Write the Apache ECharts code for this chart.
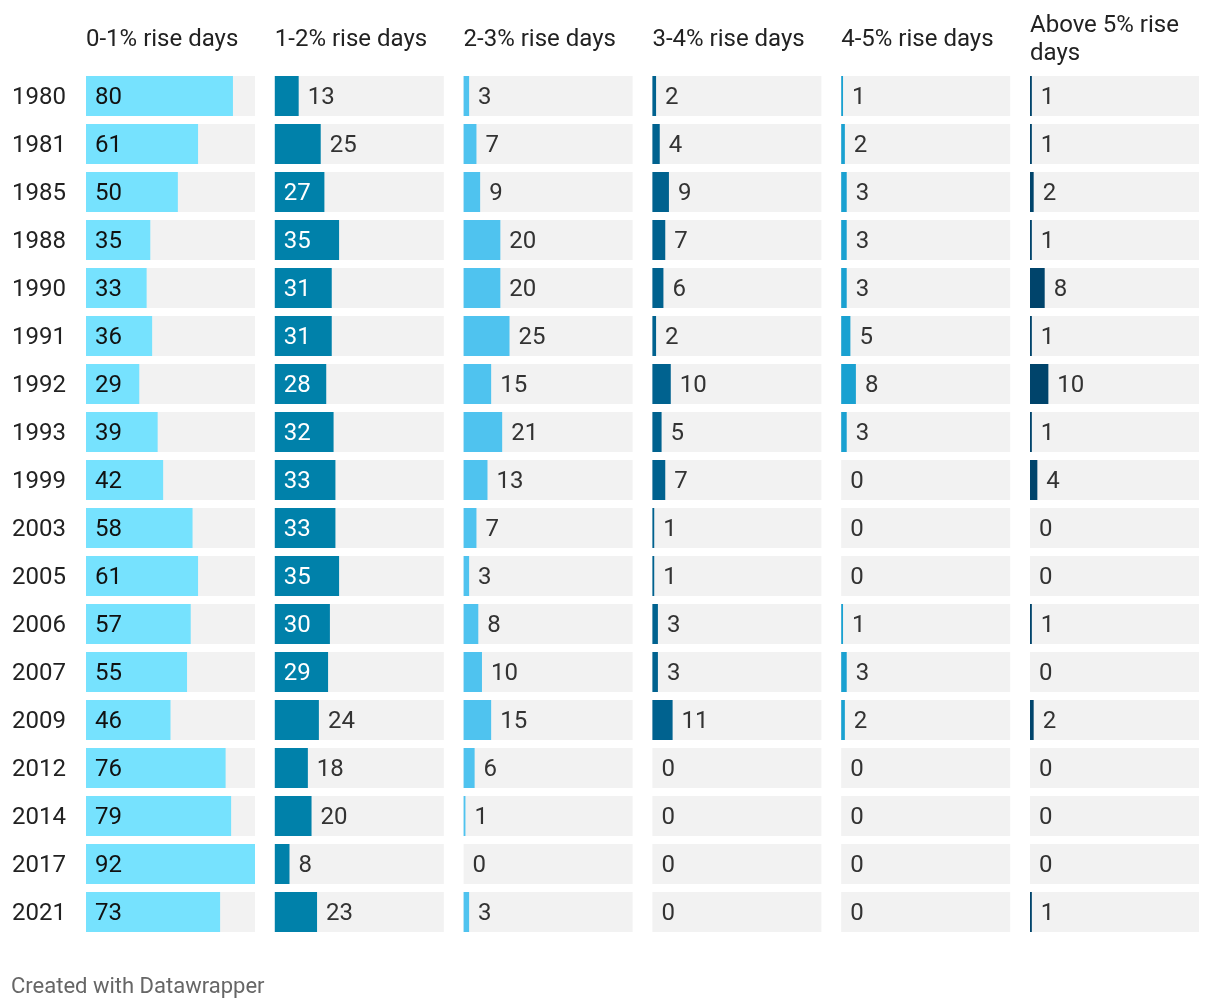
<!DOCTYPE html>
<html>
<head>
<meta charset="utf-8">
<script src="https://cdn.jsdelivr.net/npm/echarts@6/dist/echarts.min.js"></script>
<style>
html,body{margin:0;padding:0;background:#fff;}
#chart{width:1220px;height:1008px;}
</style>
</head>
<body>
<div id="chart"></div>
<script>
const years = ['1980','1981','1985','1988','1990','1991','1992','1993','1999','2003','2005','2006','2007','2009','2012','2014','2017','2021'];
const headers = ['0-1% rise days','1-2% rise days','2-3% rise days','3-4% rise days','4-5% rise days','Above 5% rise days'];
const rise0to1 = [80,61,50,35,33,36,29,39,42,58,61,57,55,46,76,79,92,73];
const rise1to2 = [13,25,27,35,31,31,28,32,33,33,35,30,29,24,18,20,8,23];
const rise2to3 = [3,7,9,20,20,25,15,21,13,7,3,8,10,15,6,1,0,3];
const rise3to4 = [2,4,9,7,6,2,10,5,7,1,1,3,3,11,0,0,0,0];
const rise4to5 = [1,2,3,3,3,5,8,3,0,0,0,1,3,2,0,0,0,0];
const riseAbove5 = [1,1,2,1,8,1,10,1,4,0,0,1,0,2,0,0,0,1];

const seriesData = [rise0to1, rise1to2, rise2to3, rise3to4, rise4to5, riseAbove5];
const colors = ['#76e2fe','#0081aa','#4fc3ef','#00628f','#1aa1d1','#00446b'];
const insideText = ['#111','#fff','#fff','#fff','#fff','#fff'];
const scaleMax = 92;
const insideMin = 26;

const colLeft = 86, colW = 169, colGap = 19.8;
const gridTop = 72, rowH = 48;
const FS = 24;

const grids = [], xAxes = [], yAxes = [], series = [], titles = [];
seriesData.forEach((vals, i) => {
  const left = colLeft + i * (colW + colGap);
  grids.push({left: left, top: gridTop, width: colW, height: rowH * years.length});
  xAxes.push({type: 'value', gridIndex: i, min: 0, max: scaleMax, show: false});
  yAxes.push({
    type: 'category', gridIndex: i, data: years, inverse: true,
    axisLine: {show: false}, axisTick: {show: false}, splitLine: {show: false},
    axisLabel: i === 0 ? {
      show: true, align: 'left', margin: 74,
      formatter: v => '{y|' + v + '}',
      rich: {y: {fontSize: FS, color: '#222', fontFamily: 'Roboto', padding: [3, 0, 0, 0]}}
    } : {show: false}
  });
  series.push({
    type: 'bar', xAxisIndex: i, yAxisIndex: i, barWidth: 40,
    showBackground: true, backgroundStyle: {color: '#f2f2f2'},
    itemStyle: {color: colors[i]},
    silent: true, animation: false,
    data: vals.map(v => {
      const inside = v >= insideMin;
      return {
        value: v,
        label: {
          show: true,
          position: inside ? 'insideLeft' : 'right',
          distance: 9,
          offset: [0, 2],
          color: inside ? insideText[i] : '#333',
          fontSize: FS, fontFamily: 'Roboto'
        }
      };
    })
  });
  titles.push({
    text: headers[i], left: left, top: i === 5 ? 12 : 26, padding: 0,
    textStyle: {fontSize: FS, fontWeight: 'normal', color: '#222', fontFamily: 'Roboto', lineHeight: 28, width: 175, overflow: 'break'}
  });
});
titles.push({
  text: 'Created with Datawrapper', left: 11, top: 976, padding: 0,
  textStyle: {fontSize: 22, fontWeight: 'normal', color: '#666', fontFamily: 'Roboto'}
});

const chart = echarts.init(document.getElementById('chart'));
chart.setOption({
  animation: false,
  title: titles,
  grid: grids,
  xAxis: xAxes,
  yAxis: yAxes,
  series: series
});
</script>
</body>
</html>
